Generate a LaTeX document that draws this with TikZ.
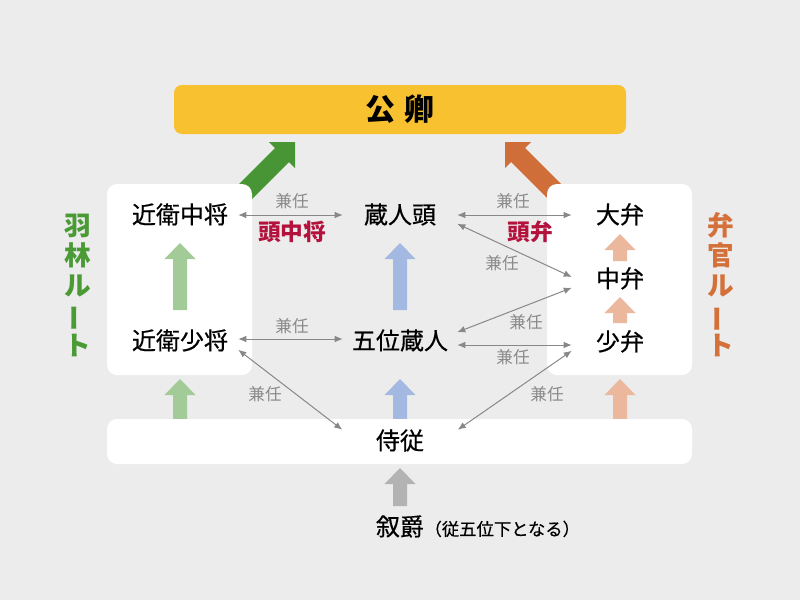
\documentclass[tikz,border=0pt]{standalone}
\usepackage{fontspec}
\setmainfont{Noto Sans CJK JP}
\newfontfamily\medfont{Noto Sans CJK JP}[FakeBold=0.5]
\usetikzlibrary{arrows.meta}
\definecolor{bg}{HTML}{ECECEC}
\definecolor{gold}{HTML}{F8C12F}
\definecolor{dgreen}{HTML}{479534}
\definecolor{dorange}{HTML}{D06E3A}
\definecolor{rgreen}{HTML}{4A9A36}
\definecolor{rorange}{HTML}{D4713A}
\definecolor{lgreen}{HTML}{A3CB98}
\definecolor{lblue}{HTML}{A3B9E1}
\definecolor{lorange}{HTML}{EBB89D}
\definecolor{lgray}{HTML}{B3B3B3}
\definecolor{crim}{HTML}{B3123D}
\definecolor{kgray}{HTML}{8A8A8A}
\definecolor{cgray}{HTML}{888888}
\newcommand{\upblock}[4]{%
  \fill[#4] ({#1-7},#3) -- ({#1-7},{#2+16}) -- ({#1-15.5},{#2+16}) -- (#1,#2) -- ({#1+15.5},{#2+16}) -- ({#1+7},{#2+16}) -- ({#1+7},#3) -- cycle;}
\begin{document}
\begin{tikzpicture}[x=0.75pt,y=-0.75pt,
  whitebox/.style={fill=white, rounded corners=7.5pt, inner sep=0pt},
  lbl/.style={font=\medfont\fontsize{18}{20}\selectfont, text=black, inner sep=0pt, text height=12.8pt, text depth=0pt},
  kennin/.style={font=\fontsize{12.5}{14}\selectfont, text=kgray, inner sep=0pt},
  tou/.style={font=\bfseries\fontsize{17}{19}\selectfont, text=crim, inner sep=0pt},
  route/.style={font=\bfseries\fontsize{20}{22.5}\selectfont, align=center, inner sep=0pt},
  conn/.style={draw=cgray, line width=0.75pt, {Latex[length=6pt,width=5pt]}-{Latex[length=6pt,width=5pt]}}
]
\useasboundingbox (0,0) rectangle (800,600);
\fill[bg] (0,0) rectangle (800,600);
% big diagonal arrows
\fill[dgreen] (233,190) -- (275,148) -- (269,142) -- (295,142) -- (295,168) -- (289,162) -- (247,204) -- cycle;
\fill[dorange] (567,190) -- (525,148) -- (531,142) -- (505,142) -- (505,168) -- (511,162) -- (553,204) -- cycle;
% bottom block arrows (under the bottom box)
\upblock{180}{379}{421}{lgreen}
\upblock{400}{379}{421}{lblue}
\upblock{620}{379}{421}{lorange}
% boxes
\node[whitebox, minimum width=108.75pt, minimum height=143.25pt] (leftbox) at (179.5,279.5) {};
\node[whitebox, minimum width=108.75pt, minimum height=143.25pt] (rightbox) at (619.5,279.5) {};
\node[whitebox, minimum width=438.75pt, minimum height=33.75pt] (bottombox) at (399.5,441.5) {};
\node[fill=gold, rounded corners=6pt, inner sep=0pt, minimum width=339pt, minimum height=36.75pt,
      font=\bfseries\fontsize{22.5}{24}\selectfont] (kugyo) at (400,109.5) {公\hspace{7pt}卿};
% inner block arrows
\upblock{180}{243}{310}{lgreen}
\upblock{400}{243}{310}{lblue}
\upblock{620}{234}{261}{lorange}
\upblock{620}{297}{323}{lorange}
\upblock{400}{468}{506}{lgray}
% labels
\node[lbl, minimum width=87pt] (kchu) at (180,215) {近衛中将};
\node[lbl, minimum width=87pt] (ksho) at (180,341) {近衛少将};
\node[lbl, minimum width=85.5pt] (kurt) at (400,215) {蔵人頭};
\node[lbl, minimum width=85.5pt] (goi) at (400,341) {五位蔵人};
\node[lbl, minimum width=72pt] (dai) at (620,215) {大弁};
\node[lbl, minimum width=72pt] (chu) at (620,279) {中弁};
\node[lbl, minimum width=72pt] (sho) at (620,342) {少弁};
\node[lbl, minimum width=86.25pt, minimum height=16.5pt] (jiju) at (400,441) {侍従};
\node[lbl] (joshaku) at (400,527) {叙爵};
\node[font=\medfont\fontsize{13}{15}\selectfont, inner sep=0pt, anchor=base west] (note) at (joshaku.base east) {（従五位下となる）};
% connectors
\draw[conn] (kchu.east) -- (kurt.west);
\draw[conn] ([yshift=1.5pt]ksho.east) -- ([yshift=1.5pt]goi.west);
\draw[conn] (kurt.east) -- (dai.west);
\draw[conn] (kurt.south east) -- ([yshift=1.5pt]chu.west);
\draw[conn] (goi.north east) -- (chu.south west);
\draw[conn] ([yshift=-3pt]goi.east) -- ([yshift=-2.25pt]sho.west);
\draw[conn] (ksho.south east) -- (jiju.north west);
\draw[conn] (sho.south west) -- (jiju.north east);
% connector labels
\node[kennin] (k1) at (292,201) {兼任};
\node[kennin] (k2) at (292,326) {兼任};
\node[kennin] (k3) at (513,201) {兼任};
\node[kennin] (k4) at (502,263) {兼任};
\node[kennin] (k5) at (526,322) {兼任};
\node[kennin] (k6) at (513,357) {兼任};
\node[kennin] (k7) at (265,394) {兼任};
\node[kennin] (k8) at (547,394) {兼任};
\node[tou] (touchu) at (292,232) {頭中将};
\node[tou] (toben) at (530,232) {頭弁};
% route labels
\node[route, text=rgreen] (urin) at (78,285) {羽\\林\\ル\\\rotatebox[origin=c]{90}{ー}\\ト};
\node[route, text=rorange] (benkan) at (721,285) {弁\\官\\ル\\\rotatebox[origin=c]{90}{ー}\\ト};
\end{tikzpicture}
\end{document}
